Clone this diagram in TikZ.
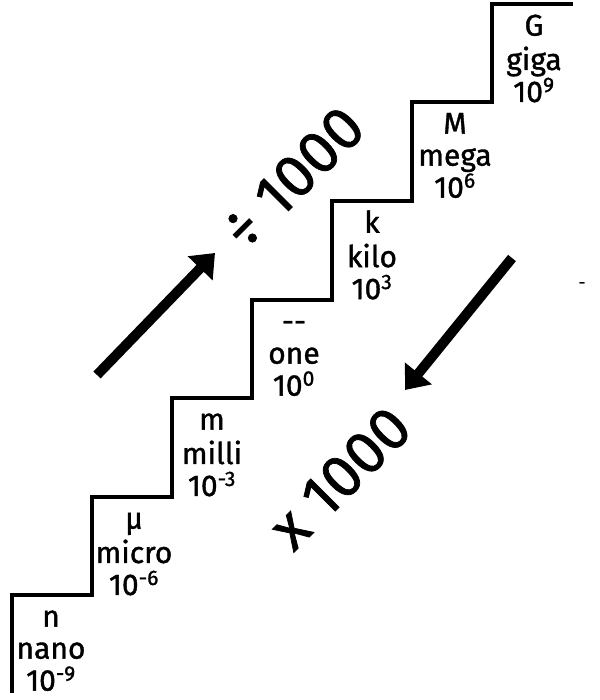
\documentclass[tikz,border=0pt]{standalone}
\usepackage{fontspec}
\setmainfont{Fira Sans}[FakeBold=1.2]
\usetikzlibrary{arrows.meta}

\begin{document}
\begin{tikzpicture}[
    x=0.75pt, y=0.75pt,
    stair/.style={line width=3pt, black},
    lbl/.style={font=\fontsize{22.5}{24}\selectfont, align=center, anchor=north, inner sep=0pt},
    big/.style={font=\fontsize{45}{48}\selectfont, rotate=45, inner sep=0pt},
    bigarrow/.style={-{Triangle[length=16pt,width=25pt]}, line width=7.5pt},
    tiny/.style={font=\fontsize{12}{14}\selectfont, inner sep=0pt},
]
\useasboundingbox (0,0) rectangle (600,700);
% the staircase
\draw[stair] (12,7) -- (12,105) -- (92,105) -- (92,203) -- (172,203)
    -- (172,302) -- (252,302) -- (252,400) -- (332,400) -- (332,499)
    -- (412,499) -- (412,598) -- (492,598) -- (492,696) -- (573,696);
% prefixes
\node[lbl] (nano)  at (51,96)   {\strut n\\nano\\10\textsuperscript{-9}};
\node[lbl] (micro) at (134,194) {\strut µ\\micro\\10\textsuperscript{-6}};
\node[lbl] (milli) at (212,293) {\strut m\\milli\\10\textsuperscript{-3}};
\node[lbl] (one)   at (294,391) {\strut -{}-\\one\\10\textsuperscript{0}};
\node[lbl] (kilo)  at (372,490) {\strut k\\kilo\\10\textsuperscript{3}};
\node[lbl] (mega)  at (455,589) {\strut M\\mega\\10\textsuperscript{6}};
\node[lbl] (giga)  at (534,687) {\strut G\\giga\\10\textsuperscript{9}};
% going up / going down
\coordinate (upA) at (97,325);
\coordinate (upB) at (215,447);
\draw[bigarrow] (upA) -- (upB);
\node[big] (div) at (293,522) {÷ 1000};
\coordinate (dnA) at (512,442);
\coordinate (dnB) at (405,310);
\draw[bigarrow] (dnA) -- (dnB);
\node[big] (mul) at (340,222) {x 1000};
\node[tiny] (dash) at (582,415) {-};
\end{tikzpicture}
\end{document}
